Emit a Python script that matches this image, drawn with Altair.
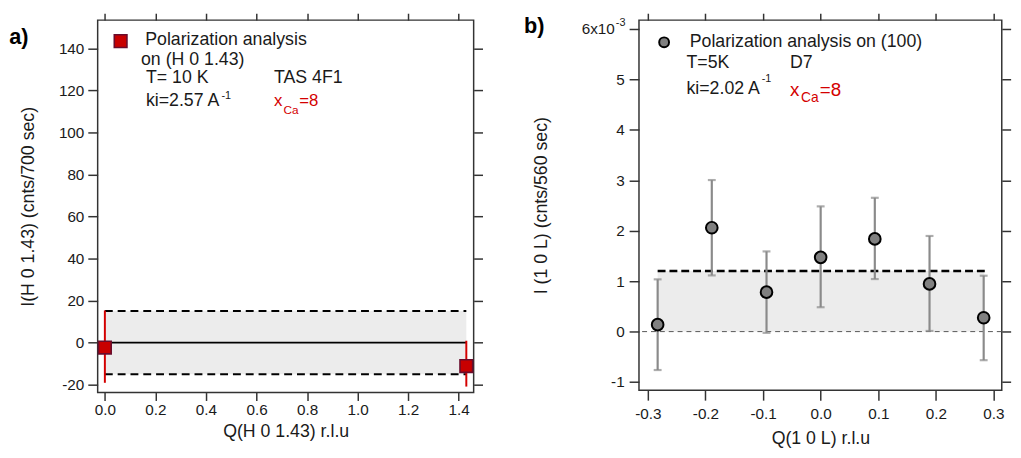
import altair as alt
import pandas as pd

FONT = "Liberation Sans"
INK = "#1a1a1a"

# ---------------- panel a data ----------------
qa = [0.0, 1.43]
ia = [-2.34, -11.15]
ia_low = [-19.1, -20.9]
ia_high = [15.3, 0.9]
band_a_x = [0.0, 1.43]
band_a_y = [-15.0, 15.0]
ticks_xa = [0.0, 0.2, 0.4, 0.6, 0.8, 1.0, 1.2, 1.4]
ticks_ya = [-20, 0, 20, 40, 60, 80, 100, 120, 140]

# ---------------- panel b data ----------------
qb = [-0.283, -0.189, -0.094, 0.0, 0.094, 0.189, 0.283]
ib = [0.137, 2.06, 0.782, 1.472, 1.838, 0.945, 0.274]
ib_low = [-0.762, 1.114, -0.025, 0.483, 1.042, 0.013, -0.567]
ib_high = [1.036, 3.005, 1.59, 2.483, 2.653, 1.896, 1.108]
band_b_x = [-0.283, 0.284]
band_b_y = [0.0, 1.2]
dash_b_x = [-0.283, 0.288]
ticks_xb = [-0.3, -0.2, -0.1, 0.0, 0.1, 0.2, 0.3]
ticks_yb = [-1, 0, 1, 2, 3, 4, 5, 6]

one = pd.DataFrame({"k": [0]})


def txt(s, x, y, size=18, color=INK, weight="normal", align="left"):
    return alt.Chart(one).mark_text(
        text=s, align=align, baseline="alphabetic", fontSize=size,
        color=color, fontWeight=weight, font=FONT
    ).encode(x=alt.value(x), y=alt.value(y))


# ================= panel a =================
xa = alt.Scale(domain=[-0.0285, 1.459], nice=False, zero=False)
ya = alt.Scale(domain=[-23.75, 153.4], nice=False, zero=False)

ax_bottom_a = alt.Axis(orient="bottom", values=ticks_xa, tickSize=8, labelPadding=2,
                       titlePadding=5, labelExpr="format(datum.value, '.1f')",
                       title="Q(H 0 1.43) r.l.u")
ax_left_a = alt.Axis(orient="left", values=ticks_ya, tickSize=10, labelPadding=4,
                     titlePadding=21, labelExpr="'' + datum.value",
                     title="I(H 0 1.43) (cnts/700 sec)")
ax_top_a = alt.Axis(orient="top", values=ticks_xa, tickSize=7, labels=False, title="")
ax_right_a = alt.Axis(orient="right", values=ticks_ya, tickSize=9, labels=False, title="")

df_band_a = pd.DataFrame({"x0": [band_a_x[0]], "x1": [band_a_x[1]],
                          "y0": [band_a_y[0]], "y1": [band_a_y[1]]})
band_a = alt.Chart(df_band_a).mark_rect(color="#ececec").encode(
    x=alt.X("x0:Q", scale=xa, axis=ax_bottom_a), x2="x1",
    y=alt.Y("y0:Q", scale=ya, axis=ax_left_a), y2="y1")

df_dash_a = pd.DataFrame({"x0": [band_a_x[0]] * 2, "x1": [band_a_x[1]] * 2, "y": band_a_y})
dash_a = alt.Chart(df_dash_a).mark_rule(color="black", strokeWidth=2, strokeDash=[8, 5]).encode(
    x=alt.X("x0:Q", scale=xa, axis=None), x2="x1", y=alt.Y("y:Q", scale=ya, axis=None))

df_zero_a = pd.DataFrame({"x0": [band_a_x[0]], "x1": [band_a_x[1]], "y": [0.0]})
zero_a = alt.Chart(df_zero_a).mark_rule(color="black", strokeWidth=2).encode(
    x=alt.X("x0:Q", scale=xa, axis=None), x2="x1", y=alt.Y("y:Q", scale=ya, axis=None))

df_a = pd.DataFrame({"q": qa, "i": ia, "lo": ia_low, "hi": ia_high})
err_a = alt.Chart(df_a).mark_rule(color="#d40000", strokeWidth=2).encode(
    x=alt.X("q:Q", scale=xa, axis=None), y=alt.Y("lo:Q", scale=ya, axis=None), y2="hi")
pts_a = alt.Chart(df_a).mark_square(size=165, fill="#c80000", stroke="#6a0c2c",
                                    strokeWidth=1.6, opacity=1).encode(
    x=alt.X("q:Q", scale=xa, axis=ax_top_a), y=alt.Y("i:Q", scale=ya, axis=ax_right_a))

leg_a_marker = alt.Chart(one).mark_square(size=165, fill="#c80000", stroke="#6a0c2c",
                                          strokeWidth=1.6, opacity=1).encode(
    x=alt.value(23.3), y=alt.value(21.3))

panel_a = alt.layer(
    band_a, dash_a, zero_a, err_a, pts_a, leg_a_marker,
    txt("a)", -89.7, 24, size=22, color="black", weight="bold"),
    txt("Polarization analysis", 48.3, 25.5),
    txt("on (H 0 1.43)", 44, 45.5),
    txt("T= 10 K", 49, 64),
    txt("TAS 4F1", 179, 64),
    txt("ki=2.57 A", 49, 87.5),
    txt("-1", 125.6, 80, size=11),
    txt("x", 179, 87.5, size=17, color="#d40000"),
    txt("Ca", 188.5, 95, size=12, color="#d40000"),
    txt("=8", 204.5, 87.5, size=17, color="#d40000"),
).properties(width=381.6, height=378)

# ================= panel b =================
xb = alt.Scale(domain=[-0.3154, 0.3144], nice=False, zero=False)
yb = alt.Scale(domain=[-1.164, 6.176], nice=False, zero=False)

ax_bottom_b = alt.Axis(orient="bottom", values=ticks_xb, tickSize=10, labelPadding=7,
                       titlePadding=7,
                       labelExpr="datum.value < -0.001 ? '-' + format(-datum.value, '.1f') : format(abs(datum.value), '.1f')",
                       title="Q(1 0 L) r.l.u")
ax_left_b = alt.Axis(orient="left", values=ticks_yb, tickSize=10, labelPadding=5,
                     titlePadding=61,
                     labelExpr="datum.value > 5.5 ? '' : '' + datum.value",
                     title="I (1 0 L) (cnts/560 sec)")
ax_top_b = alt.Axis(orient="top", values=ticks_xb, tickSize=7, labels=False, title="")
ax_right_b = alt.Axis(orient="right", values=ticks_yb, tickSize=9, labels=False, title="")

df_band_b = pd.DataFrame({"x0": [band_b_x[0]], "x1": [band_b_x[1]],
                          "y0": [band_b_y[0]], "y1": [band_b_y[1]]})
band_b = alt.Chart(df_band_b).mark_rect(color="#ececec").encode(
    x=alt.X("x0:Q", scale=xb, axis=ax_bottom_b), x2="x1",
    y=alt.Y("y0:Q", scale=yb, axis=ax_left_b), y2="y1")

df_zero_b = pd.DataFrame({"y": [0.0]})
zero_b = alt.Chart(df_zero_b).mark_rule(color="#555555", strokeWidth=1, strokeDash=[5, 4]).encode(
    y=alt.Y("y:Q", scale=yb, axis=None))

df_dash_b = pd.DataFrame({"x0": [dash_b_x[0]], "x1": [dash_b_x[1]], "y": [band_b_y[1]]})
dash_b = alt.Chart(df_dash_b).mark_rule(color="black", strokeWidth=2.5, strokeDash=[8, 4]).encode(
    x=alt.X("x0:Q", scale=xb, axis=None), x2="x1", y=alt.Y("y:Q", scale=yb, axis=None))

df_b = pd.DataFrame({"q": qb, "i": ib, "lo": ib_low, "hi": ib_high})
err_b = alt.Chart(df_b).mark_rule(color="#8a8a8a", strokeWidth=2.2).encode(
    x=alt.X("q:Q", scale=xb, axis=None), y=alt.Y("lo:Q", scale=yb, axis=None), y2="hi")
cap_lo_b = alt.Chart(df_b).mark_tick(color="#8a8a8a", orient="horizontal", size=8, thickness=2.2).encode(
    x=alt.X("q:Q", scale=xb, axis=None), y=alt.Y("lo:Q", scale=yb, axis=None))
cap_hi_b = alt.Chart(df_b).mark_tick(color="#8a8a8a", orient="horizontal", size=8, thickness=2.2).encode(
    x=alt.X("q:Q", scale=xb, axis=None), y=alt.Y("hi:Q", scale=yb, axis=None))
pts_b = alt.Chart(df_b).mark_circle(size=140, fill="#808080", stroke="black",
                                    strokeWidth=2, opacity=1).encode(
    x=alt.X("q:Q", scale=xb, axis=ax_top_b), y=alt.Y("i:Q", scale=yb, axis=ax_right_b))

leg_b_marker = alt.Chart(one).mark_circle(size=100, fill="#808080", stroke="black",
                                          strokeWidth=2, opacity=1).encode(
    x=alt.value(25.5), y=alt.value(22.5))

panel_b = alt.layer(
    band_b, zero_b, dash_b, err_b, cap_lo_b, cap_hi_b, pts_b, leg_b_marker,
    txt("b)", -116.8, 13.5, size=22, color="black", weight="bold"),
    txt("6x10", -24.5, 14.5, size=15.5, align="right"),
    txt("-3", -23.5, 5.5, size=11),
    txt("Polarization analysis on (100)", 51.5, 27.7),
    txt("T=5K", 48.2, 48.3),
    txt("D7", 153.2, 48.3),
    txt("ki=2.02 A", 48.2, 75),
    txt("-1", 124.5, 63, size=11),
    txt("x", 153.2, 76.7, size=19, color="#d40000"),
    txt("Ca", 164.5, 83, size=14, color="#d40000"),
    txt("=8", 183.5, 76.7, size=19, color="#d40000"),
).properties(width=368.2, height=375.7)

chart = alt.hconcat(panel_a, panel_b, spacing=38.4).properties(padding=0).configure_view(
    stroke="#333333", strokeWidth=1.5
).configure_axis(
    domain=False, grid=False, tickColor="#333333", tickWidth=1.5,
    labelFont=FONT, labelFontSize=15.5, labelColor=INK,
    titleFont=FONT, titleFontSize=18, titleFontWeight="normal", titleColor=INK,
)

chart.save("out.html", embed_options={"renderer": "svg", "actions": False})
